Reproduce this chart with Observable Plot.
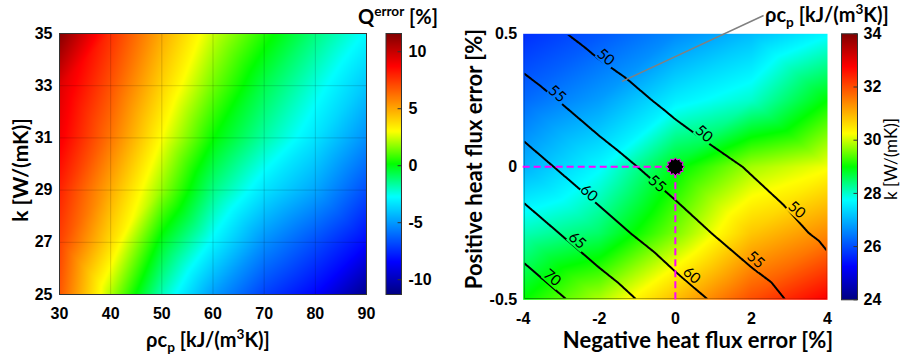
<!DOCTYPE html>
<html><head><meta charset="utf-8">
<script src="https://cdn.jsdelivr.net/npm/d3@7"></script>
<script src="https://cdn.jsdelivr.net/npm/@observablehq/plot@0.6"></script>
<style>
body{margin:0;background:#fff;}
#wrap{position:relative;width:900px;height:359px;overflow:hidden;background:#fff;}
.panel{position:absolute;top:0;}
.lbl{position:absolute;white-space:nowrap;font-family:Lato,'Open Sans',sans-serif;font-weight:bold;color:#000;line-height:1;}
.lbl sub,.lbl sup{font-size:0.68em;line-height:0;}
</style></head>
<body><div id="wrap"></div>
<script>
// ---------------- DATA ----------------
// Left panel: Q error [%] over rho*cp (columns) and k (rows)
const rhoCols = [30, 40, 50, 60, 70, 80, 90];
const kRows = [25, 27, 29, 31, 33, 35];
const qErrK25 = [6.8, 2.1, -1.9, -4.9, -7.0, -8.4, -11.0];
const qErrK27 = [7.3, 3.8, -0.2, -2.9, -5.2, -6.7, -8.3];
const qErrK29 = [8.0, 4.9, 1.8, -1.3, -3.3, -4.7, -6.7];
const qErrK31 = [9.0, 6.1, 3.0, 0.2, -1.7, -3.3, -5.2];
const qErrK33 = [9.5, 6.9, 4.0, 1.4, -0.7, -2.35, -4.0];
const qErrK35 = [11.5, 7.7, 4.9, 2.4, 0.5, -1.25, -2.8];
const qErrRows = [qErrK25, qErrK27, qErrK29, qErrK31, qErrK33, qErrK35];
const qDomain = [-11.3, 11.6];
const rhoTicks = [30, 40, 50, 60, 70, 80, 90];
const kTicks = [25, 27, 29, 31, 33, 35];
const qBarTicks = [-10, -5, 0, 5, 10];

// Right panel: k [W/(mK)] (colour) and rho*cp (contours) over heat flux errors
const negErr = [-4, -2, 0, 2, 4];
const posErr = [0.5, 0.25, 0, -0.25, -0.5];
const kP050 = [25.7, 26.1, 26.6, 27.1, 27.7];
const kP025 = [26.3, 26.8, 27.6, 28.0, 29.0];
const kP000 = [27.0, 27.7, 28.9, 29.8, 30.2];
const kM025 = [28.1, 28.5, 29.6, 30.8, 31.4];
const kM050 = [29.0, 29.85, 30.9, 32.0, 32.8];
const kFieldRows = [kP050, kP025, kP000, kM025, kM050];
const rhoP050 = [52.3, 48.3, 44.8, 41.5, 38.5];
const rhoP025 = [56.9, 52.7, 48.8, 45.3, 42.0];
const rhoP000 = [62.0, 57.0, 53.0, 49.6, 46.2];
const rhoM025 = [67.6, 62.1, 57.0, 52.8, 49.1];
const rhoM050 = [73.1, 67.7, 62.2, 57.1, 52.4];
const rhoFieldRows = [rhoP050, rhoP025, rhoP000, rhoM025, rhoM050];
const rhoLevels = [50, 55, 60, 65, 70];
const kDomain = [24, 34];
const negTicks = [-4, -2, 0, 2, 4];
const posTicks = [-0.5, 0, 0.5];
const kBarTicks = [24, 26, 28, 30, 32, 34];
const labelNeg = [-1.83, 0.75, 3.19, -3.11, -0.48, 2.11, -2.27, 0.43, -2.58, -3.24];
const labelPos = [0.412, 0.124, -0.162, 0.274, -0.064, -0.35, -0.099, -0.408, -0.277, -0.417];
const labelText = ["50", "50", "50", "55", "55", "55", "60", "60", "65", "70"];
const refPoint = {neg: 0, pos: 0};
const calloutNeg = [-1.40, 2.32];
const calloutPos = [0.321, 0.569];

// ---------------- helpers ----------------
const jetStops = [0, 0.125, 0.375, 0.5, 0.625, 0.875, 1];
const jetColors = ["#000080", "#0000ff", "#00ffff", "#00ff00", "#ffff00", "#ff0000", "#800000"];
const jet = (t) => {
  t = Math.max(0, Math.min(1, t));
  let i = 1;
  while (i < jetStops.length - 1 && t > jetStops[i]) i++;
  const a = jetStops[i - 1], b = jetStops[i];
  return d3.interpolateRgb(jetColors[i - 1], jetColors[i])((t - a) / (b - a));
};
const fmt = (d) => String(d);
const baseStyle = {
  fontFamily: "'Liberation Sans', Arial, sans-serif",
  fontSize: "16px", fontWeight: "bold", color: "#000",
  background: "transparent", overflow: "visible", maxWidth: "none"
};
const burst = {
  draw(ctx, size) {
    const R = Math.sqrt(size / Math.PI), r = R * 0.78, n = 12;
    for (let i = 0; i < 2 * n; i++) {
      const a = i * Math.PI / n - Math.PI / 2, rr = i % 2 ? r : R;
      const px = rr * Math.cos(a), py = rr * Math.sin(a);
      if (i) ctx.lineTo(px, py); else ctx.moveTo(px, py);
    }
    ctx.closePath();
  }
};

const wrap = document.getElementById("wrap");
function place(svg, left, width) {
  const d = document.createElement("div");
  d.className = "panel";
  d.style.left = left + "px";
  d.style.width = width + "px";
  d.appendChild(svg);
  wrap.appendChild(d);
  return svg;
}
function label(html, cx, cy, size, rotate, weight) {
  const d = document.createElement("div");
  d.className = "lbl";
  d.innerHTML = html;
  d.style.left = cx + "px";
  d.style.top = cy + "px";
  d.style.fontSize = size + "px";
  if (weight) d.style.fontWeight = weight;
  d.style.transform = "translate(-50%,-50%)" + (rotate ? ` rotate(${rotate}deg)` : "");
  wrap.appendChild(d);
  return d;
}

// ---------------- left panel ----------------
const qCells = kRows.flatMap((k, i) => rhoCols.map((rho, j) => ({rho, k, q: qErrRows[i][j]})));
place(Plot.plot({
  width: 380, height: 359,
  marginLeft: 59, marginRight: 14, marginTop: 33, marginBottom: 65,
  style: baseStyle,
  x: {domain: [30, 90], ticks: rhoTicks, tickSize: 0, tickPadding: 13, label: null, tickFormat: fmt},
  y: {domain: [25, 35], ticks: kTicks, tickSize: 0, tickPadding: 7, label: null, tickFormat: fmt},
  color: {type: "linear", domain: qDomain, interpolate: jet, clamp: true},
  marks: [
    Plot.raster(qCells, {x: "rho", y: "k", fill: "q", interpolate: "barycentric"}),
    Plot.ruleX(rhoTicks, {stroke: "#000", strokeOpacity: 0.15}),
    Plot.ruleY(kTicks, {stroke: "#000", strokeOpacity: 0.15}),
    Plot.frame({stroke: "#333"})
  ]
}), 0, 380);

// left colour bar
place(Plot.plot({
  width: 50, height: 359,
  marginLeft: 5.5, marginRight: 29, marginTop: 33, marginBottom: 65,
  style: baseStyle,
  x: {domain: [0, 1], axis: null},
  y: {domain: qDomain, axis: "right", ticks: qBarTicks, tickSize: 0, tickPadding: 7, label: null, tickFormat: fmt},
  color: {type: "linear", domain: qDomain, interpolate: jet, clamp: true},
  marks: [
    Plot.raster({fill: (x, y) => y, x1: 0, x2: 1, y1: qDomain[0], y2: qDomain[1]}),
    Plot.ruleY(qBarTicks, {x1: 0.78, x2: 1, stroke: "#333"}),
    Plot.frame({stroke: "#333"})
  ]
}), 380, 50);

// ---------------- right panel ----------------
const kCells = posErr.flatMap((p, i) => negErr.map((n, j) => ({neg: n, pos: p, k: kFieldRows[i][j]})));
const rhoCells = posErr.flatMap((p, i) => negErr.map((n, j) => ({neg: n, pos: p, rho: rhoFieldRows[i][j]})));
const labels = labelText.map((t, i) => ({neg: labelNeg[i], pos: labelPos[i], text: t}));
const callout = [{x1: calloutNeg[0], y1: calloutPos[0], x2: calloutNeg[1], y2: calloutPos[1]}];

const right = place(Plot.plot({
  width: 390, height: 359,
  marginLeft: 72.7, marginRight: 13, marginTop: 33.3, marginBottom: 59.7,
  style: baseStyle,
  x: {domain: [-4, 4], ticks: negTicks, tickSize: 0, tickPadding: 13, label: null, tickFormat: fmt},
  y: {domain: [-0.5, 0.5], ticks: posTicks, tickSize: 0, tickPadding: 6, label: null, tickFormat: fmt},
  color: {type: "linear", domain: kDomain, interpolate: jet, clamp: true},
  marks: [
    Plot.raster(kCells, {x: "neg", y: "pos", fill: "k", interpolate: "barycentric"}),
    Plot.contour(rhoCells, {x: "neg", y: "pos", value: "rho", thresholds: rhoLevels, interpolate: "barycentric", stroke: "black", strokeWidth: 2, fill: "none"}),
    Plot.text(labels, {x: "neg", y: "pos", text: "text", rotate: 41, fontSize: 15, fontWeight: "normal", fontFamily: "Lato, 'Open Sans', sans-serif", fill: "black"}),
    Plot.ruleY([refPoint], {y: "pos", x1: negTicks[0], x2: "neg", stroke: "#ff00ff", strokeWidth: 2, strokeDasharray: "7,4"}),
    Plot.ruleX([refPoint], {x: "neg", y1: posTicks[0], y2: "pos", stroke: "#ff00ff", strokeWidth: 2, strokeDasharray: "7,4"}),
    Plot.dot([refPoint], {x: "neg", y: "pos", r: 9, symbol: burst, fill: "black", stroke: "#ff00ff", strokeWidth: 1}),
    Plot.link(callout, {x1: "x1", y1: "y1", x2: "x2", y2: "y2", stroke: "#808080", strokeWidth: 1.5})
  ]
}), 450, 390);

// hide contour polygon edges on the frame, and open gaps under the labels
(function () {
  const ns = "http://www.w3.org/2000/svg";
  const cont = right.querySelector('g[aria-label="contour"]');
  const texts = right.querySelectorAll('g[aria-label="text"] text');
  if (!cont) return;
  const xr = right.scale("x").range, yr = right.scale("y").range;
  const fx0 = Math.min(...xr), fx1 = Math.max(...xr), fy0 = Math.min(...yr), fy1 = Math.max(...yr);
  let defs = right.querySelector("defs");
  if (!defs) { defs = document.createElementNS(ns, "defs"); right.insertBefore(defs, right.firstChild); }
  const mask = document.createElementNS(ns, "mask");
  mask.setAttribute("id", "labelGap");
  mask.setAttribute("maskUnits", "userSpaceOnUse");
  mask.setAttribute("x", -50); mask.setAttribute("y", -50);
  mask.setAttribute("width", 500); mask.setAttribute("height", 460);
  const inset = 1.3;
  const bg = document.createElementNS(ns, "rect");
  bg.setAttribute("x", fx0 + inset); bg.setAttribute("y", fy0 + inset);
  bg.setAttribute("width", fx1 - fx0 - 2 * inset); bg.setAttribute("height", fy1 - fy0 - 2 * inset);
  bg.setAttribute("fill", "white");
  mask.appendChild(bg);
  texts.forEach(t => {
    const b = t.getBBox();
    const r = document.createElementNS(ns, "rect");
    r.setAttribute("x", b.x - 1); r.setAttribute("y", b.y + 1);
    r.setAttribute("width", b.width + 2); r.setAttribute("height", b.height - 2);
    r.setAttribute("fill", "black");
    const pt = t.parentNode.getAttribute("transform") || "";
    r.setAttribute("transform", pt + " " + (t.getAttribute("transform") || ""));
    mask.appendChild(r);
  });
  defs.appendChild(mask);
  cont.setAttribute("mask", "url(#labelGap)");
})();

// right colour bar
place(Plot.plot({
  width: 65, height: 359,
  marginLeft: 6, marginRight: 43, marginTop: 33.3, marginBottom: 59.7,
  style: baseStyle,
  x: {domain: [0, 1], axis: null},
  y: {domain: kDomain, axis: "right", ticks: kBarTicks, tickSize: 0, tickPadding: 6, label: null, tickFormat: fmt},
  color: {type: "linear", domain: kDomain, interpolate: jet, clamp: true},
  marks: [
    Plot.raster({fill: (x, y) => y, x1: 0, x2: 1, y1: kDomain[0], y2: kDomain[1]}),
    Plot.ruleY(kBarTicks, {x1: 0.78, x2: 1, stroke: "#333"}),
    Plot.frame({stroke: "#333"})
  ]
}), 835, 65);

// ---------------- titles ----------------
label("k [W/(mK)]", 19, 170, 21, -90);
label("ρc<sub>p</sub> [kJ/(m<sup>3</sup>K)]", 208, 339, 20);
label("Q<sup>error</sup> [%]", 398, 16, 20);
label("Positive heat flux error [%]", 474, 159, 22, -90);
label("Negative heat flux error [%]", 698, 340, 22);
const ann = label("ρc<sub>p</sub> [kJ/(m<sup>3</sup>K)]", 0, 14, 20);
ann.style.left = "765px"; ann.style.transform = "translate(0,-50%)";
label("k [W/(mK)]", 890, 159, 17, -90, "normal");
</script>
</body></html>
